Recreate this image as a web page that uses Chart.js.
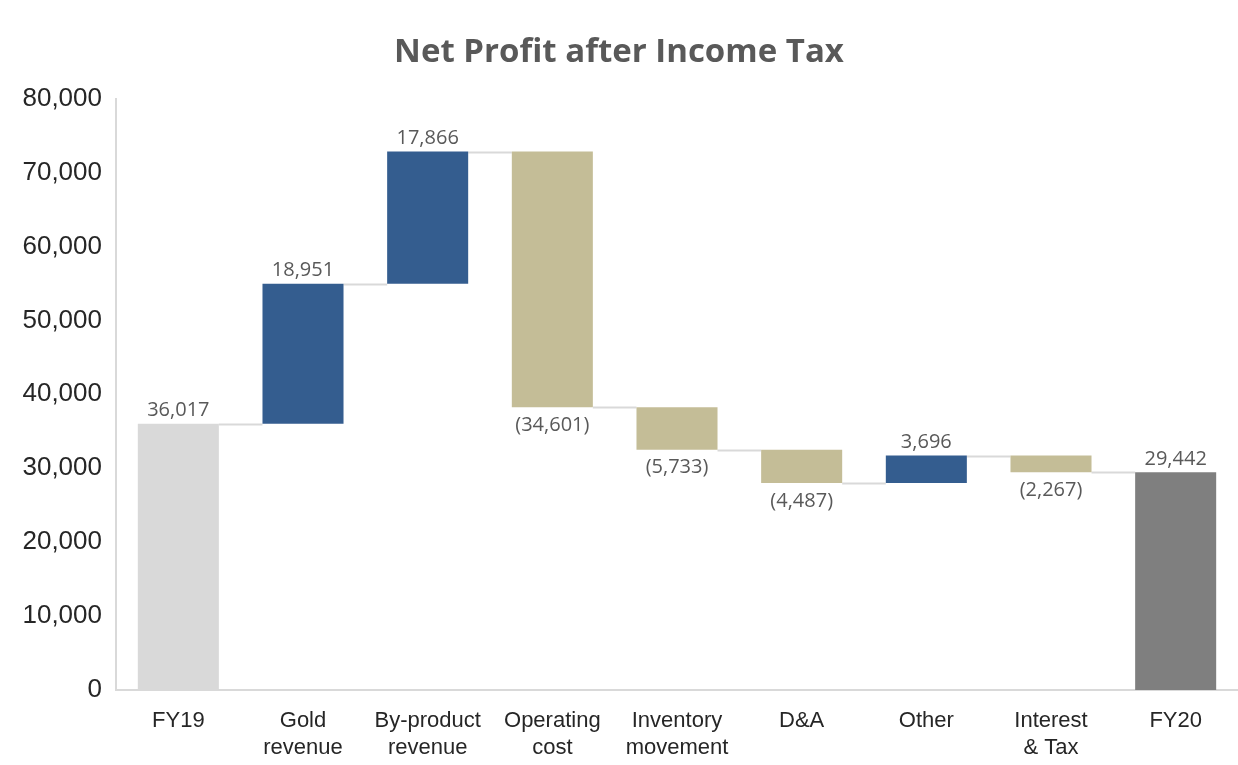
<!DOCTYPE html>
<html>
<head>
<meta charset="utf-8">
<script src="https://cdn.jsdelivr.net/npm/chart.js@4"></script>
<style>
    html, body { margin: 0; padding: 0; background: #ffffff; }
    #wrap { width: 1238px; height: 765px; }
</style>
</head>
<body>
<div id="wrap"><canvas id="waterfall"></canvas></div>
<script>
const categories = [
    ['FY19'], ['Gold', 'revenue'], ['By-product', 'revenue'], ['Operating', 'cost'],
    ['Inventory', 'movement'], ['D&A'], ['Other'], ['Interest', '& Tax'], ['FY20']
];
const changes = [36017, 18951, 17866, -34601, -5733, -4487, 3696, -2267, 29442];
const barKinds = ['start', 'up', 'up', 'down', 'down', 'down', 'up', 'down', 'end'];
const yTicks = [0, 10000, 20000, 30000, 40000, 50000, 60000, 70000, 80000];

const kindColors = {
    start: '#d9d9d9',
    up: '#345d8f',
    down: '#c4bd97',
    end: '#7f7f7f'
};

// build floating bars [from, to] from the running total
let running = 0;
const floating = changes.map((v, i) => {
    if (barKinds[i] === 'start' || barKinds[i] === 'end') {
        running = v;
        return [0, v];
    }
    const from = running;
    running += v;
    return [from, running];
});

function fmt(v) {
    const s = Math.abs(v).toLocaleString('en-US');
    return v < 0 ? '(' + s + ')' : s;
}

const connectors = {
    id: 'connectors',
    beforeDatasetsDraw(chart) {
        const meta = chart.getDatasetMeta(0);
        const y = chart.scales.y;
        const ctx = chart.ctx;
        ctx.save();
        ctx.strokeStyle = '#d9d9d9';
        ctx.lineWidth = 2;
        for (let i = 0; i < floating.length - 1; i++) {
            const a = meta.data[i], b = meta.data[i + 1];
            const py = Math.round(y.getPixelForValue(floating[i][1])) + 0.5;
            ctx.beginPath();
            ctx.moveTo(a.x + a.width / 2, py);
            ctx.lineTo(b.x - b.width / 2, py);
            ctx.stroke();
        }
        ctx.restore();
    }
};

const valueLabels = {
    id: 'valueLabels',
    afterDatasetsDraw(chart) {
        const meta = chart.getDatasetMeta(0);
        const y = chart.scales.y;
        const ctx = chart.ctx;
        ctx.save();
        ctx.font = '20px "Open Sans"';
        ctx.fillStyle = '#595959';
        ctx.textAlign = 'center';
        meta.data.forEach((bar, i) => {
            const [from, to] = floating[i];
            if (changes[i] < 0) {
                ctx.textBaseline = 'top';
                ctx.fillText(fmt(changes[i]), bar.x, y.getPixelForValue(Math.min(from, to)) + 8);
            } else {
                ctx.textBaseline = 'bottom';
                ctx.fillText(fmt(changes[i]), bar.x, y.getPixelForValue(Math.max(from, to)) - 3);
            }
        });
        ctx.restore();
    }
};

new Chart(document.getElementById('waterfall'), {
    type: 'bar',
    data: {
        labels: categories,
        datasets: [{
            data: floating,
            backgroundColor: barKinds.map(k => kindColors[k]),
            borderWidth: 0,
            borderSkipped: false,
            categoryPercentage: 1,
            barPercentage: 0.65
        }]
    },
    options: {
        responsive: true,
        maintainAspectRatio: false,
        animation: false,
        layout: { padding: { left: 0, right: 0, top: 0, bottom: 6 } },
        plugins: {
            legend: { display: false },
            tooltip: { enabled: false },
            title: {
                display: true,
                text: 'Net Profit after Income Tax',
                color: '#595959',
                font: { family: '"Open Sans"', size: 33, weight: 'bold' },
                padding: { top: 33, bottom: 26 }
            }
        },
        scales: {
            x: {
                afterFit(scale) { scale.height = 69; },
                grid: { display: false, drawTicks: false },
                border: { color: '#d9d9d9', width: 2 },
                ticks: {
                    color: '#262626',
                    font: { family: '"Liberation Sans"', size: 22, lineHeight: 1.2 },
                    padding: 18,
                    maxRotation: 0,
                    autoSkip: false
                }
            },
            y: {
                min: 0,
                max: 80000,
                afterBuildTicks(scale) {
                    scale.ticks = yTicks.map(v => ({ value: v }));
                },
                afterFit(scale) { scale.width = 116; },
                grid: { display: false, drawTicks: false },
                border: { color: '#d9d9d9', width: 2 },
                ticks: {
                    color: '#262626',
                    font: { family: '"Liberation Sans"', size: 26 },
                    padding: 14,
                    callback: v => v.toLocaleString('en-US')
                }
            }
        }
    },
    plugins: [connectors, valueLabels]
});
</script>
</body>
</html>
